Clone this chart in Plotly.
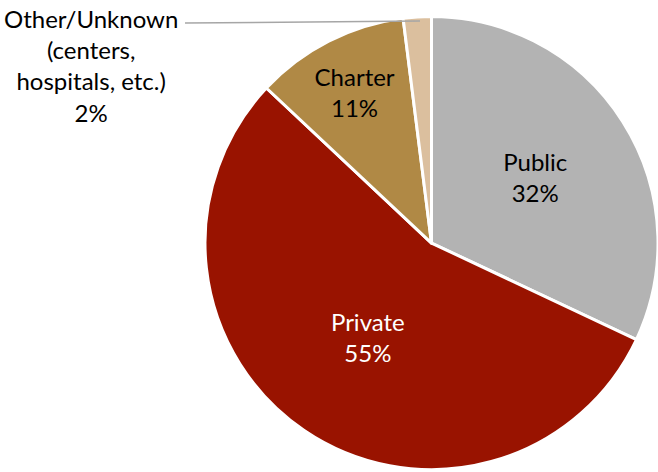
import plotly.graph_objects as go

labels = ["Public", "Private", "Charter", "Other/Unknown<br>(centers,<br>hospitals, etc.)"]
short_labels = ["Public", "Private", "Charter", ""]
values = [32, 55, 11, 2]
colors = ["#B3B3B3", "#991300", "#B08945", "#DBBF9E"]
text_colors = ["#000000", "#FFFFFF", "#000000", "#000000"]

texts = [f"{l}<br>{v}%" if l else "" for l, v in zip(short_labels, values)]

FONT = "Lato"
FS = 24

fig = go.Figure(go.Pie(
    labels=labels,
    values=values,
    text=texts,
    textinfo="text",
    textposition="inside",
    insidetextorientation="horizontal",
    sort=False,
    direction="clockwise",
    rotation=0,
    marker=dict(colors=colors, line=dict(color="white", width=3)),
    textfont=dict(family=FONT, size=FS, color=text_colors),
    domain=dict(x=[205/658, 1.0], y=[0.0, 0.97]),
    showlegend=False,
    hoverinfo="label+percent",
))

fig.add_annotation(
    x=91/658, y=1 - 66/472, xref="paper", yref="paper",
    xanchor="center", yanchor="middle",
    text=f"Other/Unknown<br>(centers,<br>hospitals, etc.)<br>{values[3]}%",
    showarrow=False, align="center",
    font=dict(family=FONT, size=FS, color="#000000"),
)
fig.add_shape(type="line", xref="paper", yref="paper",
              x0=185/658, y0=1 - 23/472, x1=420/658, y1=1 - 21/472,
              line=dict(color="#A6A6A6", width=1.5))

fig.update_layout(
    width=658, height=472,
    margin=dict(l=0, r=0, t=0, b=0),
    paper_bgcolor="white", plot_bgcolor="white",
)

fig.write_html("out.html", config={"displayModeBar": False},
               post_script="document.body.style.margin='0';")
